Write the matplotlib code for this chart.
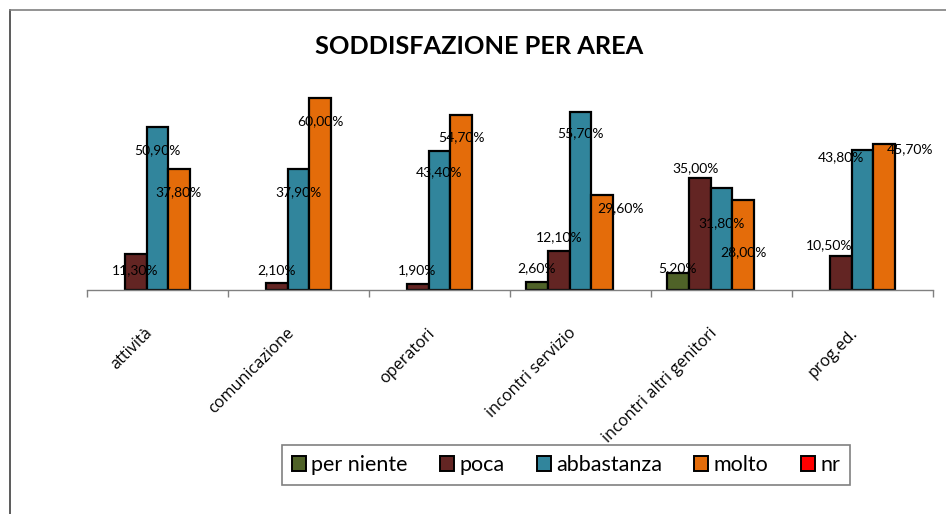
import numpy as np
import matplotlib
matplotlib.use("Agg")
import matplotlib.pyplot as plt
import matplotlib.transforms as mtransforms
from matplotlib.lines import Line2D
from matplotlib.patches import Patch

categories = ["attività", "comunicazione", "operatori", "incontri servizio",
              "incontri altri genitori", "prog.ed."]
series = ["per niente", "poca", "abbastanza", "molto", "nr"]

per_niente = [0.0, 0.0, 0.0, 2.6, 5.2, 0.0]
poca = [11.3, 2.1, 1.9, 12.1, 35.0, 10.5]
abbastanza = [50.9, 37.9, 43.4, 55.7, 31.8, 43.8]
molto = [37.8, 60.0, 54.7, 29.6, 28.0, 45.7]
nr = [0.0, 0.0, 0.0, 0.0, 0.0, 0.0]

colors = ["#4F6228", "#632523", "#31859C", "#E46C0A", "#FF0000"]

# label nudges in pixels (dx, dy; dy > 0 is up) from the bar top, as placed in the original
nudge_poca = [(0, -16), (0, 13), (0, 14), (1, 14), (-4, 10), (-11, 11)]
nudge_abb = [(0, -23), (0, -23), (0, -21), (0, -21), (0, -35), (-22, -7)]
nudge_molto = [(-1, -23), (0, -23), (0, -22), (18, -13), (0, -52), (26, -5)]
nudge_pn = [(0, 0), (0, 0), (0, 0), (0, 14), (0, 5), (0, 0)]
nudge_nr = [(0, 0)] * 6

values = [per_niente, poca, abbastanza, molto, nr]
nudges = [nudge_pn, nudge_poca, nudge_abb, nudge_molto, nudge_nr]

fig = plt.figure(figsize=(9.46, 5.14), dpi=100)
ax = fig.add_axes([87 / 946, 1 - 290 / 514, 846 / 946, 205 / 514])

x = np.arange(len(categories))
w = 0.156
for k, (name, vals, col, nud) in enumerate(zip(series, values, colors, nudges)):
    pos = x + (k - 2) * w
    vals = np.array(vals)
    keep = vals > 0
    ax.bar(pos[keep], vals[keep], width=w, color=col, edgecolor="black",
           linewidth=1.6, zorder=2)
    for p, v, (dx, dy) in zip(pos[keep], vals[keep], np.array(nud)[keep]):
        ax.annotate(f"{v:.2f}%".replace(".", ","), (p, v),
                    xytext=(dx, dy), textcoords="offset pixels",
                    ha="center", va="center", fontsize=10, family="Lato",
                    color="black", zorder=3)

ax.set_xlim(-0.5, len(categories) - 0.5)
ax.set_ylim(0, 64.06)
for s in ["top", "right", "left"]:
    ax.spines[s].set_visible(False)
ax.spines["bottom"].set_color("#808080")
ax.spines["bottom"].set_linewidth(1.0)
ax.set_yticks([])
ax.set_xticks(x)
ax.set_xticklabels(categories, rotation=45, ha="right", va="center",
                   rotation_mode="anchor", fontsize=11.7, family="Open Sans")
ax.tick_params(axis="x", which="major", length=0, pad=33)
shift = mtransforms.ScaledTranslation(-7 / 100, 5 / 100, fig.dpi_scale_trans)
for lbl in ax.get_xticklabels():
    lbl.set_transform(lbl.get_transform() + shift)
ax.set_xticks(np.arange(-0.5, len(categories)), minor=True)
ax.tick_params(axis="x", which="minor", length=5, width=1.0, color="#808080")

fig.text(479 / 946, 1 - 46 / 514, "SODDISFAZIONE PER AREA", ha="center",
         va="center", fontsize=18.3, fontweight="bold", family="Lato")

# outer frame (top and left edges)
fig.add_artist(Line2D([10 / 946, 10 / 946], [0, 1 - 10 / 514],
                      transform=fig.transFigure, color="#404040", lw=1.2))
fig.add_artist(Line2D([10 / 946, 1], [1 - 10 / 514, 1 - 10 / 514],
                      transform=fig.transFigure, color="#808080", lw=1.2))

handles = [Patch(facecolor=c, edgecolor="black", linewidth=1.4) for c in colors]
leg = fig.legend(handles, series, loc="center",
                 bbox_to_anchor=(566 / 946, 1 - 465 / 514), ncol=5,
                 frameon=True, fancybox=False, prop={"family": "Lato", "size": 15.5},
                 handlelength=0.65, handleheight=0.65, handletextpad=0.25,
                 columnspacing=1.5, borderpad=0.45)
leg.get_frame().set_edgecolor("#606060")
leg.get_frame().set_linewidth(1.2)

fig.savefig("out.png", dpi=100)
